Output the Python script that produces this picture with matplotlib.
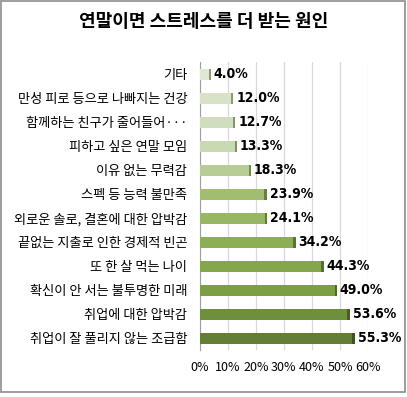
import matplotlib
matplotlib.use("Agg")
import matplotlib.pyplot as plt
from matplotlib.patches import Rectangle

plt.rcParams['font.family'] = ['Noto Sans CJK KR', 'DejaVu Sans']

title = "연말이면 스트레스를 더 받는 원인"
categories = ["기타", "만성 피로 등으로 나빠지는 건강", "함께하는 친구가 줄어들어···",
              "피하고 싶은 연말 모임", "이유 없는 무력감", "스펙 등 능력 불만족",
              "외로운 솔로, 결혼에 대한 압박감", "끝없는 지출로 인한 경제적 빈곤",
              "또 한 살 먹는 나이", "확신이 안 서는 불투명한 미래",
              "취업에 대한 압박감", "취업이 잘 풀리지 않는 조급함"]
values = [4.0, 12.0, 12.7, 13.3, 18.3, 23.9, 24.1, 34.2, 44.3, 49.0, 53.6, 55.3]
colors = ["#dfe8d2", "#d7e2c7", "#d1debd", "#c9d9b2", "#b8cd96", "#a0bd70",
          "#98b764", "#8cae55", "#85a74c", "#7c9e45", "#6e903c", "#627f35"]
side_colors = ["#8a9a78", "#8a9a78", "#849470", "#7f8f68", "#75885a", "#667d45",
               "#637a42", "#5b733a", "#566d35", "#506630", "#485d2a", "#3f5224"]
xticks = [0, 10, 20, 30, 40, 50, 60]
xticklabels = ["0%", "10%", "20%", "30%", "40%", "50%", "60%"]

fig = plt.figure(figsize=(4.07, 3.97), dpi=100)
fig.patches.append(Rectangle((0.002, 0.012), 0.994, 0.985, transform=fig.transFigure,
                             fill=False, edgecolor="#8c8c8c", linewidth=1.2))
ax = fig.add_axes([0.491, 0.118, 0.413, 0.725])

y = list(range(len(categories)))
ax.barh(y, values, height=0.46, color=colors, edgecolor="none", zorder=3)
ax.barh(y, [0.9] * len(values), left=[v - 0.9 for v in values], height=0.46,
        color=side_colors, edgecolor="none", zorder=4)
for yi, v in zip(y, values):
    ax.text(v + 1.0, yi, f"{v:.1f}%", va="center", ha="left", fontsize=10,
            fontweight="bold", family=["DejaVu Sans"], fontstretch="condensed",
            color="black")

ax.set_ylim(len(categories) - 0.5, -0.5)
ax.set_xlim(0, 60)
ax.set_xticks(xticks)
ax.set_xticklabels(xticklabels, fontsize=9)
ax.set_yticks(y)
ax.set_yticklabels(categories, fontsize=9.5)
ax.tick_params(axis='x', length=0, pad=8)
ax.tick_params(axis='y', length=0, pad=9)
ax.grid(axis='x', color="#d9d9d9", linewidth=0.9, zorder=0)
for s in ["top", "right", "bottom"]:
    ax.spines[s].set_visible(False)
ax.spines["left"].set_color("#a0a0a0")

fig.text(0.5, 0.945, title, ha="center", va="center", fontsize=13, fontweight="bold")

fig.savefig("out.png", dpi=100)
